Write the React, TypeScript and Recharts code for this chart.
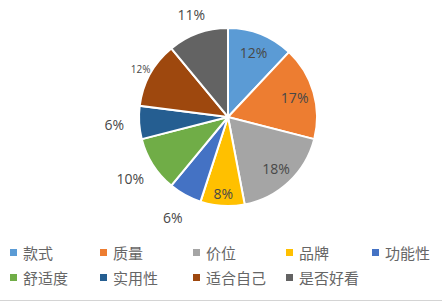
import { PieChart, Pie, Cell } from "recharts";

const CATEGORIES = ["款式", "质量", "价位", "品牌", "功能性", "舒适度", "实用性", "适合自己", "是否好看"];
const SHARES = [12, 17, 18, 8, 6, 10, 6, 12, 11];
const COLORS = ["#5b9bd5", "#ed7d31", "#a5a5a5", "#ffc000", "#4472c4", "#70ad47", "#255e91", "#9e480e", "#636363"];

// label distance from centre, as a share of the radius (Excel "best fit" look)
const LABEL_RADIUS = [0.78, 0.78, 0.79, 0.86, 1.29, 1.3, 1.28, 1.12, 1.22];
const LABEL_SIZE = [14, 14, 14, 14, 14, 14, 14, 10, 14];
const LEGEND_COL = [90, 93, 93, 86, 70];

const data = CATEGORIES.map((name, i) => ({ name, value: SHARES[i] }));

const RAD = Math.PI / 180;

function renderLabel(props: any) {
  const { cx, cy, midAngle, outerRadius, index, value } = props;
  const r = outerRadius * LABEL_RADIUS[index];
  const x = cx + r * Math.cos(-midAngle * RAD);
  const y = cy + r * Math.sin(-midAngle * RAD);
  return (
    <text
      x={x}
      y={y}
      fill="#484848"
      fontSize={LABEL_SIZE[index]}
      fontFamily="'Open Sans', sans-serif"
      textAnchor="middle"
      dominantBaseline="central"
    >
      {value}%
    </text>
  );
}

function ChartLegend() {
  const rows = [data.slice(0, 5), data.slice(5)];
  return (
    <div style={{ position: "absolute", left: 10, top: 240 }}>
      {rows.map((row, ri) => (
        <div key={ri} style={{ display: "flex", height: 25, alignItems: "center" }}>
          {row.map((d, i) => (
            <div key={d.name} style={{ width: LEGEND_COL[i], display: "flex", alignItems: "center" }}>
              <span
                style={{
                  width: 7,
                  height: 7,
                  background: COLORS[CATEGORIES.indexOf(d.name)],
                  marginRight: 6,
                  display: "inline-block",
                }}
              />
              <span
                style={{
                  fontSize: 15,
                  color: "#666",
                  fontFamily: "'Noto Sans CJK SC', sans-serif",
                  lineHeight: "18px",
                  whiteSpace: "nowrap",
                }}
              >
                {d.name}
              </span>
            </div>
          ))}
        </div>
      ))}
    </div>
  );
}

export default function App() {
  return (
    <div style={{ position: "absolute", left: 0, top: 0, width: 442, height: 302, background: "#fff", overflow: "hidden" }}>
      <PieChart width={442} height={240} margin={{ top: 0, right: 0, bottom: 0, left: 0 }}>
        <Pie
          data={data}
          dataKey="value"
          nameKey="name"
          cx={228}
          cy={117}
          outerRadius={89}
          startAngle={90}
          endAngle={-270}
          stroke="#fff"
          strokeWidth={2}
          label={renderLabel}
          labelLine={false}
          isAnimationActive={false}
        >
          {data.map((d, i) => (
            <Cell key={d.name} fill={COLORS[i]} />
          ))}
        </Pie>
      </PieChart>
      <ChartLegend />
      <div style={{ position: "absolute", left: 0, top: 300, width: 442, height: 1, background: "#d4d4d4" }} />
    </div>
  );
}
